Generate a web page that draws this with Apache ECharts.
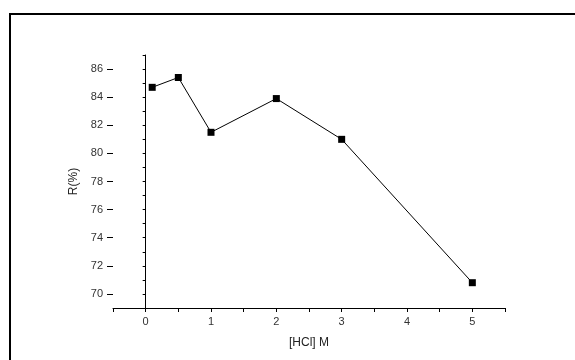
<!DOCTYPE html>
<html>
<head>
<meta charset="utf-8">
<script src="https://cdn.jsdelivr.net/npm/echarts@6/dist/echarts.min.js"></script>
<style>html,body{margin:0;padding:0;background:#fff;}#c{width:575px;height:360px;}</style>
</head>
<body>
<div id="c"></div>
<script>
var xValues = [0.1, 0.5, 1, 2, 3, 5];
var rValues = [84.7, 85.4, 81.5, 83.9, 81.0, 70.8];
var yTickValues = [70, 72, 74, 76, 78, 80, 82, 84, 86];
var xTickValues = [0, 1, 2, 3, 4, 5];

var chart = echarts.init(document.getElementById('c'), null, {renderer: 'canvas'});
var font = 'Liberation Sans, Arial, sans-serif';
var option = {
  backgroundColor: '#fff',
  animation: false,
  grid: {left: 113, right: 70, top: 55, bottom: 52},
  graphic: [
    {type: 'line', shape: {x1: 9, y1: 14, x2: 575, y2: 14}, style: {stroke: '#000', lineWidth: 2}},
    {type: 'line', shape: {x1: 10, y1: 13, x2: 10, y2: 360}, style: {stroke: '#000', lineWidth: 2}}
  ],
  xAxis: {
    type: 'value', min: -0.5, max: 5.5, interval: 0.5,
    name: '[HCl] M', nameLocation: 'middle', nameGap: 29,
    nameTextStyle: {fontFamily: font, fontSize: 12, color: '#222'},
    axisLine: {show: true, lineStyle: {color: '#000', width: 1}},
    axisTick: {show: true, length: 4, inside: false, lineStyle: {color: '#000'}},
    axisLabel: {
      fontFamily: font, fontSize: 11, color: '#333', margin: 8,
      showMinLabel: true, showMaxLabel: true,
      formatter: function (v) { return xTickValues.indexOf(v) >= 0 ? String(v) : ''; }
    },
    splitLine: {show: false}
  },
  yAxis: [{
    type: 'value', min: 69, max: 87, interval: 1,
    name: 'R(%)', nameLocation: 'middle', nameGap: 30,
    nameTextStyle: {fontFamily: font, fontSize: 12, color: '#222'},
    axisLine: {show: true, lineStyle: {color: '#000', width: 1}},
    axisTick: {show: true, length: 3, lineStyle: {color: '#000'}},
    axisLabel: {
      fontFamily: font, fontSize: 11, color: '#333', margin: 10,
      formatter: function (v) { return yTickValues.indexOf(v) >= 0 ? String(v) : ''; }
    },
    splitLine: {show: false}
  }, {
    type: 'value', min: 69, max: 87, position: 'left', offset: 0,
    axisLine: {show: false},
    axisTick: {show: true, length: 6, customValues: yTickValues, lineStyle: {color: '#000'}},
    axisLabel: {show: false},
    splitLine: {show: false}
  }],
  series: [{
    type: 'line',
    data: xValues.map(function (x, i) { return [x, rValues[i]]; }),
    symbol: 'rect', symbolSize: 7,
    itemStyle: {color: '#000'},
    lineStyle: {color: '#000', width: 1},
    showAllSymbol: true
  }]
};
chart.setOption(option);
</script>
</body>
</html>
